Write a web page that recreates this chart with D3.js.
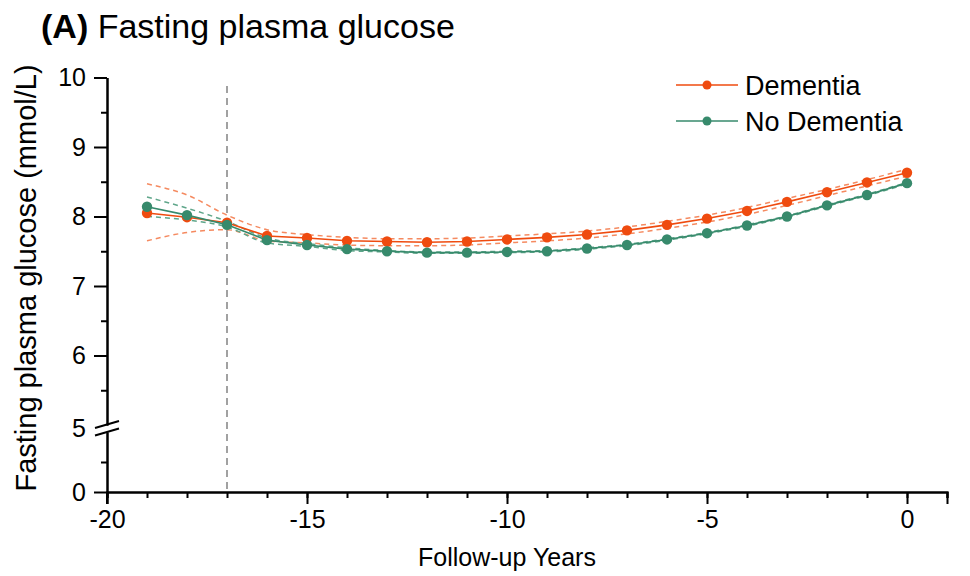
<!DOCTYPE html>
<html>
<head>
<meta charset="utf-8">
<script src="https://cdn.jsdelivr.net/npm/d3@7"></script>
<style>
  body { margin: 0; background: #fff; }
  svg text { font-family: "Liberation Sans", Arial, sans-serif; fill: #000; }
</style>
</head>
<body>
<svg id="chart" width="970" height="576"></svg>
<script>
// follow-up years
const years = [-19, -18, -17, -16, -15, -14, -13, -12, -11, -10, -9, -8, -7, -6, -5, -4, -3, -2, -1, 0];

// Dementia: mean and 95% CI
const demMean = [8.05, 7.99, 7.91, 7.72, 7.69, 7.65, 7.64, 7.63, 7.64, 7.67, 7.70, 7.74, 7.80, 7.88, 7.97, 8.08, 8.21, 8.35, 8.49, 8.63];
const demHigh = [8.47, 8.31, 8.02, 7.81, 7.74, 7.70, 7.68, 7.68, 7.69, 7.72, 7.75, 7.79, 7.85, 7.93, 8.02, 8.13, 8.26, 8.39, 8.53, 8.68];
const demLow  = [7.65, 7.77, 7.81, 7.65, 7.62, 7.59, 7.58, 7.58, 7.59, 7.62, 7.65, 7.69, 7.75, 7.83, 7.92, 8.03, 8.16, 8.30, 8.44, 8.58];

// No dementia: mean and 95% CI
const nodMean = [8.14, 8.02, 7.88, 7.66, 7.59, 7.53, 7.50, 7.48, 7.48, 7.49, 7.50, 7.54, 7.59, 7.67, 7.76, 7.87, 8.00, 8.16, 8.31, 8.48];
const nodHigh = [8.28, 8.12, 7.93, 7.69, 7.61, 7.55, 7.51, 7.49, 7.49, 7.50, 7.51, 7.55, 7.60, 7.68, 7.77, 7.88, 8.01, 8.17, 8.32, 8.49];
const nodLow  = [8.00, 7.95, 7.85, 7.62, 7.57, 7.51, 7.49, 7.47, 7.47, 7.48, 7.49, 7.53, 7.58, 7.66, 7.75, 7.86, 7.99, 8.15, 8.30, 8.47];

const xTicks = [-20, -15, -10, -5, 0];
const yTicksUpper = [5, 6, 7, 8, 9, 10];
const yTicksLower = [0];
const cutYear = -17;

const seriesNames = ["Dementia", "No Dementia"];
const colors = ["#EF4B0F", "#378A6C"];
const ciColors = ["#F58A60", "#5FA68A"];

const svg = d3.select("#chart");
const margin = { top: 77.5, right: 23, bottom: 84, left: 107 };
const width = 970 - margin.left - margin.right;
const height = 576 - margin.top - margin.bottom;

const x = d3.scaleLinear().domain([-20, 1]).range([margin.left, margin.left + width]);
// broken y axis: 5..10 on top, 0..5 compressed below
const yUp = d3.scaleLinear().domain([5, 10]).range([425, margin.top]);
const yLow = d3.scaleLinear().domain([0, 5]).range([margin.top + height, 432]);
const y0 = margin.top + height;
const fmt = d => String(d);

// title
const title = svg.append("text").attr("x", 41).attr("y", 38).style("font-size", "34px");
title.append("tspan").style("font-weight", "bold").text("(A)");
title.append("tspan").text(" Fasting plasma glucose");

// x axis
const xAxis = svg.append("g").attr("transform", "translate(0," + y0 + ")");
xAxis.call(d3.axisBottom(x).tickValues(d3.range(-20, 2)).tickSize(6).tickFormat(""))
xAxis.append("g").call(d3.axisBottom(x).tickValues(xTicks).tickSize(12).tickPadding(6).tickFormat(fmt));
xAxis.selectAll("path.domain").attr("stroke-width", 2);
xAxis.selectAll(".tick line").attr("stroke-width", 2);

// y axis upper
const yAxisU = svg.append("g").attr("transform", "translate(" + margin.left + ",0)");
yAxisU.call(d3.axisLeft(yUp).tickValues(d3.range(5.5, 10, 1)).tickSize(6).tickFormat("").tickSizeOuter(0));
yAxisU.append("g").call(d3.axisLeft(yUp).tickValues(yTicksUpper).tickSize(13).tickPadding(8).tickSizeOuter(0).tickFormat(fmt));
yAxisU.selectAll("path.domain").attr("stroke-width", 2);
yAxisU.selectAll(".tick line").attr("stroke-width", 2);
yAxisU.selectAll(".tick").filter(d => d === 5).select("line").remove();
yAxisU.selectAll(".tick").filter(d => d === 5).select("text").attr("y", 3);

// y axis lower
const yAxisL = svg.append("g").attr("transform", "translate(" + margin.left + ",0)");
yAxisL.call(d3.axisLeft(yLow).tickValues([2.5]).tickSize(6).tickFormat("").tickSizeOuter(0));
yAxisL.append("g").call(d3.axisLeft(yLow).tickValues(yTicksLower).tickSize(13).tickPadding(8).tickSizeOuter(0).tickFormat(fmt));
yAxisL.selectAll("path.domain").attr("stroke-width", 2);
yAxisL.selectAll(".tick line").attr("stroke-width", 2);
// y axis continues below the x axis
svg.append("line").attr("x1", margin.left).attr("x2", margin.left)
  .attr("y1", y0).attr("y2", y0 + 12).attr("stroke", "#000").attr("stroke-width", 2);
svg.selectAll(".tick text").style("font-size", "25px").attr("font-family", null);

// break marks
const bx = margin.left;
[424.5, 432].forEach(by => {
  svg.append("line").attr("x1", bx - 12).attr("y1", by + 3.5).attr("x2", bx + 12).attr("y2", by - 3.5)
    .attr("stroke", "#000").attr("stroke-width", 2);
});

// axis titles
svg.append("text").attr("x", margin.left + (x(0) - x(-20)) / 2).attr("y", 566)
  .attr("text-anchor", "middle").style("font-size", "25px").text("Follow-up Years");
svg.append("text").attr("transform", "translate(36,278) rotate(-90)")
  .attr("text-anchor", "middle").style("font-size", "29px").text("Fasting plasma glucose (mmol/L)");

// dashed vertical reference line
svg.append("line").attr("x1", x(cutYear)).attr("x2", x(cutYear)).attr("y1", 86).attr("y2", y0)
  .attr("stroke", "#7a7a7a").attr("stroke-width", 1.4).attr("stroke-dasharray", "7,5");

const ciLine = d3.line().x((d, i) => x(years[i])).y(d => yUp(d)).curve(d3.curveMonotoneX);
const meanLine = d3.line().x((d, i) => x(years[i])).y(d => yUp(d));

const drawSets = [
  { k: 0, mean: demMean, low: demLow, high: demHigh },
  { k: 1, mean: nodMean, low: nodLow, high: nodHigh }
];
drawSets.forEach(s => {
  [s.low, s.high].forEach(arr => {
    svg.append("path").datum(arr).attr("d", ciLine).attr("fill", "none")
      .attr("stroke", ciColors[s.k]).attr("stroke-width", 1.5).attr("stroke-dasharray", "5,4");
  });
});
drawSets.forEach(s => {
  svg.append("path").datum(s.mean).attr("d", meanLine).attr("fill", "none")
    .attr("stroke", colors[s.k]).attr("stroke-width", 1.6);
  svg.append("g").selectAll("circle").data(s.mean).join("circle")
    .attr("cx", (d, i) => x(years[i])).attr("cy", d => yUp(d)).attr("r", 5.2)
    .attr("fill", colors[s.k]);
});

// legend
const legend = svg.append("g");
seriesNames.forEach((name, i) => {
  const ly = 85 + i * 36;
  legend.append("line").attr("x1", 676).attr("x2", 738).attr("y1", ly).attr("y2", ly)
    .attr("stroke", colors[i]).attr("stroke-width", 1.6);
  legend.append("circle").attr("cx", 707).attr("cy", ly).attr("r", 4.5).attr("fill", colors[i]);
  legend.append("text").attr("x", 745).attr("y", ly).attr("dy", "0.36em")
    .style("font-size", "27px").text(name);
});
</script>
</body>
</html>
